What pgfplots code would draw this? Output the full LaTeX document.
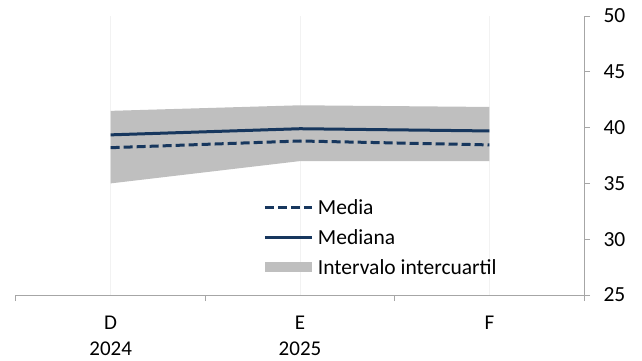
\documentclass[border=0pt]{standalone}
\usepackage{pgfplots}
\pgfplotsset{compat=1.18}
\usepackage{fontspec}
\setmainfont{Carlito}
\definecolor{navy}{HTML}{17375E}
\definecolor{band}{HTML}{BFBFBF}
\definecolor{axisgray}{HTML}{A6A6A6}
\pgfplotsset{
  lineleg/.style={legend image code/.code={\draw[##1] (0pt,0pt) -- (47pt,0pt); \path (49.5pt,0pt);}},
  bandleg/.style={legend image code/.code={\fill[##1] (0pt,-5pt) rectangle (47pt,5pt); \path (49.5pt,0pt);}},
}
\pgfplotstableread{
x mean median
0 38.2 39.35
1 38.8 39.9
2 38.45 39.7
}\datatable
% interquartile band: upper edge (q3) left to right, then lower edge (q1) right to left
\pgfplotstableread{
x y
0 41.5
1 42.0
2 41.85
2 37.0
1 37.0
0 35.0
}\bandtable
\begin{document}
\begin{tikzpicture}
\begin{axis}[
  at={(16pt,65pt)}, anchor=south west,
  scale only axis, width=568pt, height=279pt,
  xmin=-0.5, xmax=2.5, ymin=25, ymax=50,
  axis x line*=bottom, axis y line*=right,
  axis line style={axisgray, line width=1pt},
  xtick={0,1,2}, xticklabels={D\\2024, E\\2025, F},
  xticklabel style={align=center, font=\fontsize{21}{26}\selectfont, yshift=-11pt},
  major x tick style={draw=none},
  minor xtick={-0.5,0.5,1.5,2.5},
  minor tick length=6pt,
  minor x tick style={axisgray, line width=1pt},
  ytick={25,30,...,50},
  major tick length=6pt,
  ytick style={axisgray, line width=1pt},
  tick align=outside,
  yticklabel style={font=\fontsize{21.5}{24}\selectfont, xshift=10pt},
  /pgf/number format/assume math mode=true,
  xmajorgrids, major x grid style={draw=black!5, line width=0.8pt},
  legend style={draw=none, fill=none, at={(0.43,0.358)}, anchor=north west,
    font=\fontsize{21.5}{24}\selectfont, row sep=9.5pt},
  legend cell align=left,
]
\addlegendimage{lineleg, navy, line width=3pt, dash pattern=on 9pt off 4pt}
\addlegendimage{lineleg, navy, line width=3pt}
\addplot[fill=band, draw=none, bandleg] table[x=x, y=y] {\bandtable} -- cycle;
\addplot[navy, line width=3pt, dash pattern=on 9pt off 4pt, forget plot] table[x=x, y=mean] {\datatable};
\addplot[navy, line width=3pt, forget plot] table[x=x, y=median] {\datatable};
\legend{Media, Mediana, Intervalo intercuartil}
\end{axis}
\pgfresetboundingbox
\path (0,0) rectangle (642pt,360pt);
\end{tikzpicture}
\end{document}
